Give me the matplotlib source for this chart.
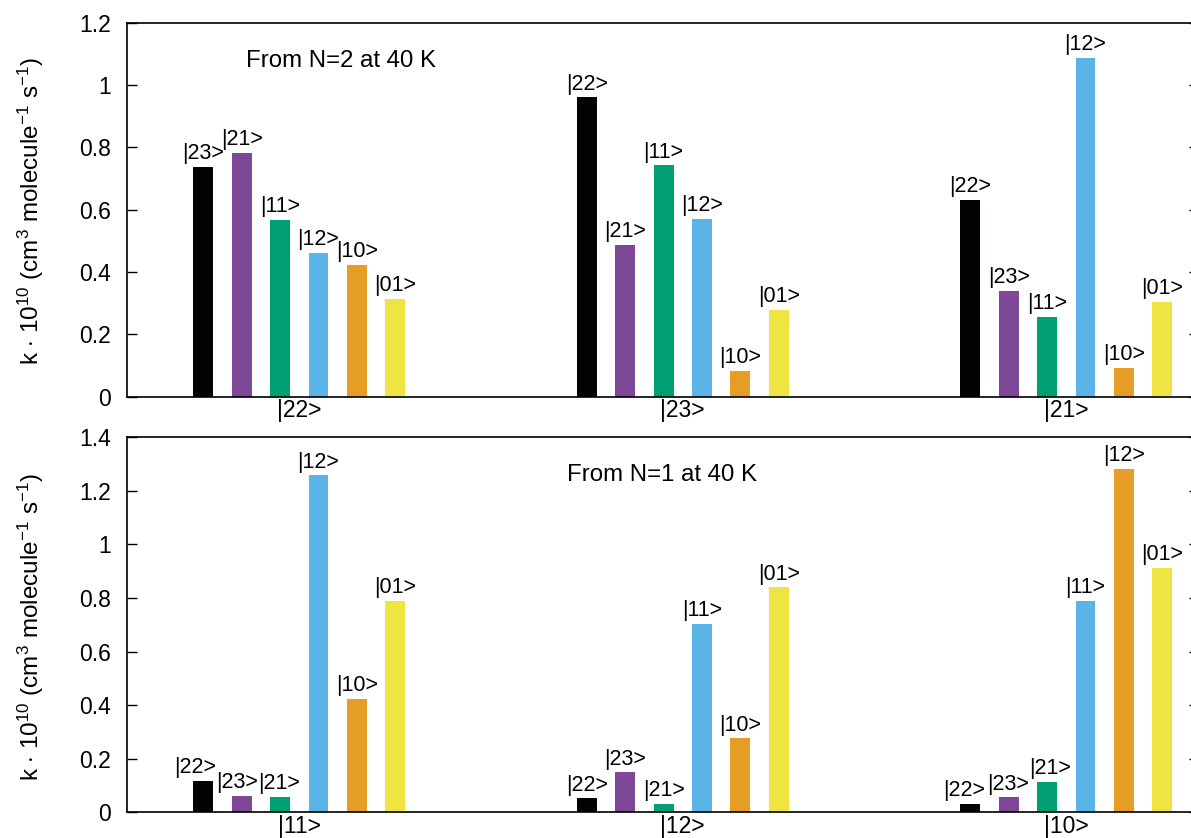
import matplotlib
matplotlib.use("Agg")
import matplotlib.pyplot as plt

# ---Fonts---
plt.rcParams['font.family'] = ['Liberation Sans', 'DejaVu Sans']
plt.rcParams['mathtext.fontset'] = 'custom'
plt.rcParams['mathtext.rm'] = 'Liberation Sans'
plt.rcParams['mathtext.it'] = 'Liberation Sans'

# ---Data---
colors = ['#020403', '#7e4798', '#009e73', '#5bb4e6', '#e59d26', '#f0e442']

top_groups = ['|22>', '|23>', '|21>']
top_values = [
    [0.738, 0.783, 0.567, 0.462, 0.423, 0.313],
    [0.960, 0.486, 0.742, 0.570, 0.083, 0.278],
    [0.632, 0.339, 0.255, 1.088, 0.092, 0.304],
]
top_labels = [
    ['|23>', '|21>', '|11>', '|12>', '|10>', '|01>'],
    ['|22>', '|21>', '|11>', '|12>', '|10>', '|01>'],
    ['|22>', '|23>', '|11>', '|12>', '|10>', '|01>'],
]

bot_groups = ['|11>', '|12>', '|10>']
bot_values = [
    [0.116, 0.061, 0.057, 1.258, 0.422, 0.788],
    [0.052, 0.149, 0.030, 0.702, 0.276, 0.840],
    [0.032, 0.056, 0.113, 0.790, 1.283, 0.912],
]
bot_labels = [
    ['|22>', '|23>', '|21>', '|12>', '|10>', '|01>'],
    ['|22>', '|23>', '|21>', '|11>', '|10>', '|01>'],
    ['|22>', '|23>', '|21>', '|11>', '|12>', '|01>'],
]

offsets = [-0.25, -0.15, -0.05, 0.05, 0.15, 0.25]
bar_w = 0.052

# small sideways shifts (pixels) for crowded bar labels: (group, bar) -> dx
bot_nudge = {(0, 0): -8, (0, 1): -5, (0, 2): -1, (2, 0): -6, (2, 1): -1, (2, 2): 3}

ylabel = r'k $\cdot$ 10$^{10}$ (cm$^3$ molecule$^{-1}$ s$^{-1}$)'

fig = plt.figure(figsize=(11.91, 8.38), dpi=100)
W, H = 1191.0, 838.0
left = 127.5 / W
width = 1071.5 / W
ax1 = fig.add_axes([left, 1 - 396.7 / H, width, 374.0 / H])
ax2 = fig.add_axes([left, 1 - 812.3 / H, width, 375.0 / H])


def draw_panel(ax, groups, values, labels, ymax, yticks, title, title_xy, nudge):
    for g in range(len(groups)):
        for k in range(6):
            x = g + offsets[k]
            ax.bar(x, values[g][k], width=bar_w, color=colors[k], edgecolor='none')
            dx = nudge.get((g, k), 0) * 0.72
            ax.annotate(labels[g][k], (x, values[g][k]), xytext=(dx, 2),
                        textcoords='offset points', ha='center', va='bottom',
                        fontsize=15.5)
    ax.set_xlim(-0.448, 2.346)
    ax.set_ylim(0, ymax)
    ax.set_xticks(range(len(groups)))
    ax.set_xticklabels(groups, fontsize=16.5)
    ax.set_yticks(yticks)
    ax.set_yticklabels([('%g' % t) for t in yticks], fontsize=16.5)
    ax.tick_params(axis='x', length=0, pad=2)
    ax.tick_params(axis='y', direction='in', length=7, width=1.0, pad=12,
                   right=True)
    for s in ax.spines.values():
        s.set_linewidth(1.2)
    ax.text(title_xy[0], title_xy[1], title, fontsize=17.3, ha='left', va='center')


draw_panel(ax1, top_groups, top_values, top_labels, 1.2,
           [0, 0.2, 0.4, 0.6, 0.8, 1.0, 1.2], 'From N=2 at 40 K', (-0.138, 1.078), {})
draw_panel(ax2, bot_groups, bot_values, bot_labels, 1.4,
           [0, 0.2, 0.4, 0.6, 0.8, 1.0, 1.2, 1.4], 'From N=1 at 40 K', (0.698, 1.258),
           bot_nudge)

fig.text(31 / W, 1 - 211 / H, ylabel, rotation=90, ha='center', va='center', fontsize=17.5)
fig.text(31 / W, 1 - 627 / H, ylabel, rotation=90, ha='center', va='center', fontsize=17.5)

fig.savefig('out.png', dpi=100)
